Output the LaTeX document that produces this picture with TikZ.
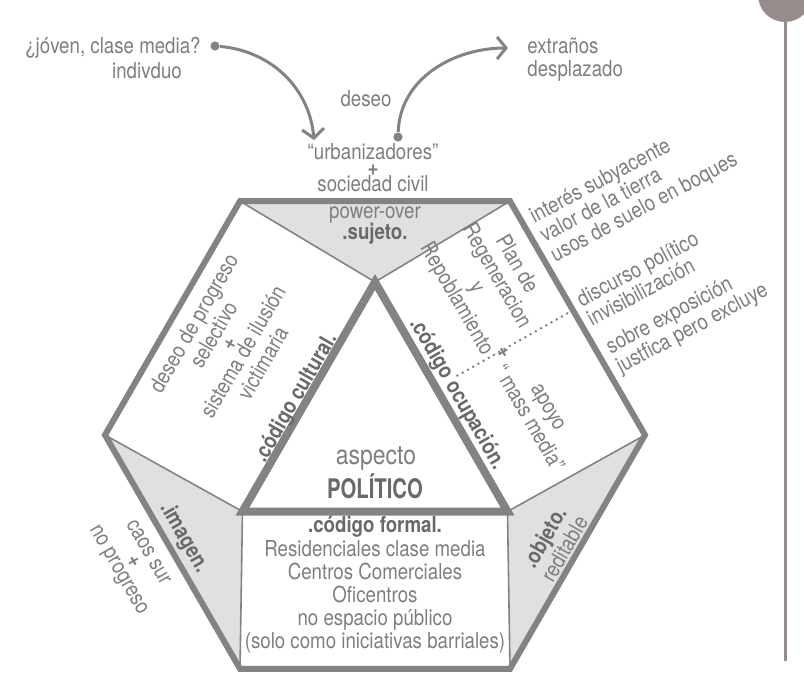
\documentclass[tikz,border=0pt]{standalone}
\usepackage{fontspec}
\setmainfont{TeX Gyre Heros}[FakeStretch=0.85]
\newfontfamily\narrowfont{TeX Gyre Heros}[FakeStretch=0.75]
\usetikzlibrary{arrows.meta,calc}
\definecolor{Steel}{HTML}{838386}
\definecolor{Mist}{HTML}{E0E0E2}
\definecolor{Slate}{HTML}{7E7E81}
\definecolor{Graphite}{HTML}{69696C}
\definecolor{Rail}{HTML}{978C8C}
\tikzset{
  lbl/.style={text=Slate, font=\fontsize{11}{11.5}\selectfont, inner sep=0pt, align=center},
  key/.style={lbl, text=Graphite, font=\fontsize{11}{11.5}\selectfont\bfseries},
  side/.style={lbl, align=left, anchor=west, rotate=28, font=\fontsize{11}{11}\selectfont},
  facet/.style={fill=Mist, draw=Steel, line width=0.8pt, line join=miter},
  pin/.style={circle, fill=Steel, inner sep=0pt, minimum size=4.6pt},
  sweep/.style={draw=Steel, line width=1.5pt, -{Straight Barb[length=4.5pt,width=11pt]}}
}
\newcommand{\joinplus}{{\bfseries +}}

\begin{document}
\begin{tikzpicture}[x=0.5pt,y=0.5pt]
        \useasboundingbox (0,0) rectangle (804,676);
        \coordinate (C) at (375,241);
        \foreach \a in {0,60,...,300} \coordinate (h\a) at ($(C)+(\a:270)$);
        \foreach \a in {90,210,330} \coordinate (t\a) at ($(C)+(\a:153)$);

        \filldraw[facet] (h60) -- (h120) -- (t90) -- cycle;
        \filldraw[facet] (h180) -- (h240) -- (t210) -- cycle;
        \filldraw[facet] (h300) -- (h0) -- (t330) -- cycle;
        \draw[Steel, line width=3pt, line join=miter] (h0) -- (h60) -- (h120) -- (h180) -- (h240) -- (h300) -- cycle;
        \draw[Steel, line width=4pt, line join=miter] (t90) -- (t210) -- (t330) -- cycle;

        \node[lbl, anchor=east] (who) at (201,628) {¿jóven, clase media?};
        \node[lbl] (ind) at (147,605) {indivduo};
        \node[pin] (p1) at (215,630) {};
        \coordinate (a1) at (314,536);
        \draw[sweep] (p1) to[out=-5,in=95] (a1);

        \node[lbl] (des) at (366,577) {deseo};
        \node[pin] (p2) at (398,539) {};
        \coordinate (a2) at (508,628);
        \draw[sweep] (p2) to[out=88,in=180] (a2);
        \node[lbl, anchor=west, align=left] (ext) at (527,616) {extraños\\desplazado};

        \node[lbl] (urb) at (373,508) {“urbanizadores”\\[-3.5pt]\joinplus\\[-3.5pt]sociedad civil};
        \node[lbl] (suj) at (375,451) {power-over\\[-1pt]{\color{Graphite}\bfseries .sujeto.}};

        \node[lbl, rotate=60] (des2) at (228,333) {deseo de progreso\\selectivo\\[-3pt]\joinplus\\[-3pt]sistema de ilusión\\victimaria};
        \node[key, rotate=60] (cul) at (296,278) {.código cultural.};

        \coordinate (dl1) at (568,363);
        \coordinate (dl2) at (455,299);
        \draw[Steel, dotted, line width=1pt] (dl1) -- (dl2);
        \node[lbl, rotate=-60] (plan) at (486,394) {Plan de\\Regeneracion\\y\\Repoblamiento};
        \node[lbl, rotate=-60] (pl) at (503,323) {\joinplus};
        \node[lbl, rotate=-60] (med) at (538,263) {apoyo\\“ mass media”};
        \node[key, rotate=-60] (ocu) at (457,282) {.código ocupación.};

        \node[lbl, font=\fontsize{13.5}{14}\selectfont] (asp) at (376,218) {aspecto};
        \node[key, font=\fontsize{13.5}{14}\narrowfont\bfseries] (pol) at (375,190) {POLÍTICO};

        \node[lbl, font=\fontsize{11}{11.6}\selectfont] (frm) at (375,91) {{\color{Graphite}\bfseries .código formal.}\\Residenciales clase media\\Centros Comerciales\\Oficentros\\no espacio público\\(solo como iniciativas barriales)};

        \node[key, rotate=-60] (img) at (184,138) {.imagen.};
        \node[lbl, rotate=-60] (cao) at (132,114) {caos sur\\[-3pt]\joinplus\\[-3pt]no progreso};
        \node[lbl, rotate=60] (obj) at (554,133) {{\color{Graphite}\bfseries .objeto.}\\reditable};

        \node[side] (int) at (542,438) {interés subyacente\\valor de la tierra\\usos de suelo en boques};
        \node[side] (dis) at (583,366) {discurso político\\invisibilización};
        \node[side] (sob) at (613,317) {sobre exposición\\justfica pero excluye};

        \draw[Rail, line width=1.5pt] (785,681) -- (785,15);
        \fill[Rail] (785,681) circle (27);
      \end{tikzpicture}
\end{document}
